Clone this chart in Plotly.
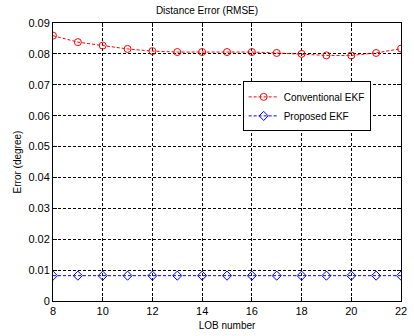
import plotly.graph_objects as go

lob = [8, 9, 10, 11, 12, 13, 14, 15, 16, 17, 18, 19, 20, 21, 22]
conventional = [0.0859, 0.0838, 0.0827, 0.0816, 0.0809, 0.0806, 0.0806, 0.0806,
                0.0806, 0.0803, 0.0800, 0.0795, 0.0795, 0.0803, 0.0817]
proposed = [0.0082] * 15
x_ticks = [8, 10, 12, 14, 16, 18, 20, 22]
y_ticks = [0, 0.01, 0.02, 0.03, 0.04, 0.05, 0.06, 0.07, 0.08, 0.09]
y_labels = ["0", "0.01", "0.02", "0.03", "0.04", "0.05", "0.06", "0.07", "0.08", "0.09"]

fig = go.Figure()
fig.add_trace(go.Scatter(x=lob, y=conventional, mode="lines+markers", name="Conventional EKF",
                         line=dict(color="red", width=1, dash="3px,2px"),
                         marker=dict(symbol="circle-open", size=7, color="red", line=dict(width=1))))
fig.add_trace(go.Scatter(x=lob, y=proposed, mode="lines+markers", name="Proposed EKF",
                         line=dict(color="blue", width=1, dash="3px,2px"),
                         marker=dict(symbol="diamond-open", size=7, color="blue", line=dict(width=1))))

axis_common = dict(showline=True, linecolor="black", linewidth=1, mirror="ticks",
                   ticks="inside", ticklen=4, tickcolor="black",
                   showgrid=True, gridcolor="black", griddash="3px,2px", gridwidth=1,
                   zeroline=False, tickfont=dict(family="Liberation Sans, Arial", size=11, color="black"))

fig.update_layout(
    width=414, height=336,
    margin=dict(l=53, r=7, t=23, b=33),
    plot_bgcolor="white", paper_bgcolor="white",
    font=dict(family="Liberation Sans, Arial", size=11, color="black"),
    title=dict(text="Distance Error (RMSE)", x=0.5, xanchor="center", y=0.978, yanchor="top",
               font=dict(size=10)),
    xaxis=dict(range=[8, 22], tickvals=x_ticks,
               title=dict(text="LOB number", standoff=5, font=dict(size=10)), **axis_common),
    yaxis=dict(range=[0, 0.09], tickvals=y_ticks, ticktext=y_labels,
               title=dict(text="Error (degree)", standoff=4, font=dict(size=10)), **axis_common),
    legend=dict(x=0.545, y=0.79, xanchor="left", yanchor="top", bgcolor="white",
                bordercolor="black", borderwidth=1, font=dict(size=10),
                tracegroupgap=0),
    showlegend=True,
)
fig.write_html("out.html")
